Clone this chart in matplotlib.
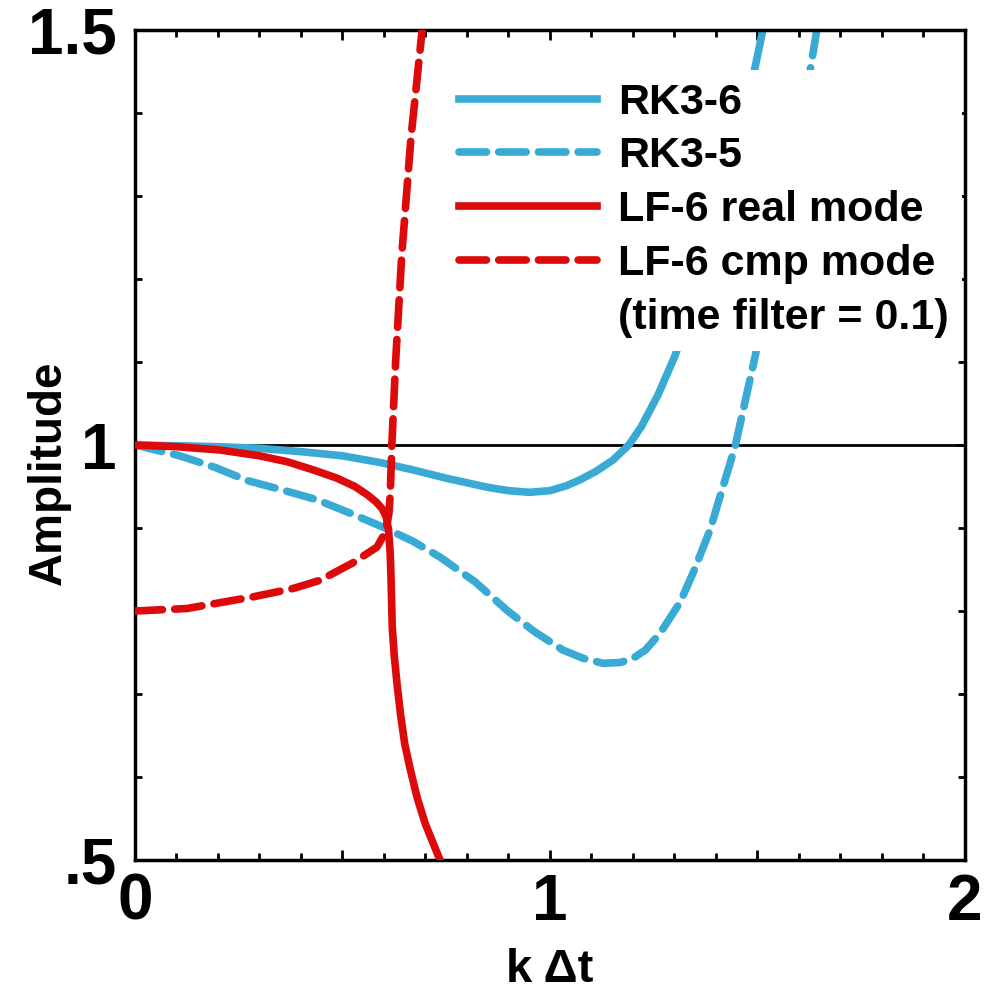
import matplotlib
matplotlib.use("Agg")
import matplotlib.pyplot as plt
from matplotlib.lines import Line2D
from matplotlib.ticker import MultipleLocator, FixedLocator, FixedFormatter

plt.rcParams['font.family'] = ['Liberation Sans', 'DejaVu Sans']

# RK3-6 (solid blue)
k_rk36 = [0, 0.1, 0.2, 0.3, 0.4, 0.5, 0.59, 0.67, 0.75, 0.85, 0.9, 0.95, 1.0, 1.04, 1.072,
          1.11, 1.152, 1.19, 1.22, 1.26, 1.30, 1.35, 1.40, 1.45, 1.513]
a_rk36 = [1.0, 0.999, 0.998, 0.996, 0.992, 0.987, 0.979, 0.970, 0.960, 0.949, 0.945, 0.943,
          0.945, 0.951, 0.958, 0.968, 0.982, 1.0, 1.022, 1.06, 1.106, 1.175, 1.255, 1.35, 1.5]

# RK3-5 (dashed blue)
k_rk35 = [0, 0.108, 0.193, 0.272, 0.354, 0.439, 0.518, 0.598, 0.67, 0.735, 0.82, 0.896, 0.96,
          1.031, 1.08, 1.128, 1.17, 1.2, 1.23, 1.265, 1.313, 1.345, 1.386, 1.402, 1.446,
          1.494, 1.55, 1.6, 1.643]
a_rk35 = [1.0, 0.987, 0.973, 0.957, 0.946, 0.934, 0.918, 0.901, 0.884, 0.865, 0.835, 0.801,
          0.776, 0.753, 0.743, 0.737, 0.738, 0.743, 0.753, 0.773, 0.81, 0.846, 0.898, 0.925,
          0.998, 1.106, 1.24, 1.37, 1.5]

# LF-6 real mode (solid red)
k_lf_real = [0, 0.1, 0.205, 0.3, 0.366, 0.43, 0.487, 0.53, 0.56, 0.582, 0.596, 0.605, 0.611,
             0.615, 0.617, 0.619, 0.62, 0.625, 0.632, 0.64, 0.65, 0.663, 0.68, 0.70, 0.735]
a_lf_real = [1.0, 0.998, 0.994, 0.987, 0.98, 0.97, 0.96, 0.95, 0.94, 0.931, 0.923, 0.914,
             0.898, 0.87, 0.84, 0.80, 0.78, 0.745, 0.71, 0.675, 0.64, 0.61, 0.575, 0.543, 0.5]

# LF-6 computational mode (dashed red)
k_lf_cmp = [0, 0.125, 0.284, 0.38, 0.446, 0.525, 0.583, 0.598, 0.607, 0.612, 0.615, 0.617,
            0.619, 0.628, 0.643, 0.665, 0.692]
a_lf_cmp = [0.8, 0.803, 0.817, 0.827, 0.837, 0.858, 0.877, 0.89, 0.903, 0.918, 0.94, 0.97,
            1.0, 1.1, 1.23, 1.37, 1.5]

blue = '#38aad4'
red = '#dc0a0a'

fig = plt.figure(figsize=(9.88, 9.94), dpi=100)
ax = fig.add_axes([0.1366, 0.1348, 0.8401, 0.835])

ax.axhline(1.0, color='black', lw=2.0, zorder=1)

ax.plot(k_rk36, a_rk36, color=blue, lw=5.5, label='RK3-6', zorder=2)
ax.plot(k_rk35, a_rk35, color=blue, lw=5.5, dashes=(3.6, 1.6), dash_capstyle='round',
        label='RK3-5', zorder=2)
ax.plot(k_lf_real, a_lf_real, color=red, lw=5.5, label='LF-6 real mode', zorder=3)
ax.plot(k_lf_cmp, a_lf_cmp, color=red, lw=5.5, dashes=(3.6, 1.6), dash_capstyle='round',
        label='LF-6 cmp mode', zorder=3)

ax.set_xlim(0, 2)
ax.set_ylim(0.5, 1.5)

ax.xaxis.set_major_locator(FixedLocator([0, 0.5, 1, 1.5, 2]))
ax.xaxis.set_major_formatter(FixedFormatter(['0', '', '1', '', '2']))
ax.xaxis.set_minor_locator(MultipleLocator(0.1))
ax.yaxis.set_major_locator(FixedLocator([0.5, 1, 1.5]))
ax.yaxis.set_major_formatter(FixedFormatter(['.5', '1', '1.5']))
ax.yaxis.set_minor_locator(MultipleLocator(0.1))

ax.tick_params(which='both', direction='in', top=True, right=True, width=2)
ax.tick_params(which='major', length=7)
ax.tick_params(which='minor', length=5)
ax.tick_params(axis='x', which='major', labelsize=46, pad=9)
ax.tick_params(axis='y', which='major', labelsize=46, pad=13)
for lab in ax.get_xticklabels() + ax.get_yticklabels():
    lab.set_fontweight('bold')
for sp in ax.spines.values():
    sp.set_linewidth(2.5)

ax.set_xlabel('k \u0394t', fontsize=34, fontweight='bold')
ax.xaxis.set_label_coords(0.5, -0.106)
ax.set_ylabel('Amplitude', fontsize=33, fontweight='bold')
ax.yaxis.set_label_coords(-0.077, 0.467)

handles, labels = ax.get_legend_handles_labels()
handles.append(Line2D([], [], color='none'))
labels.append('(time filter = 0.1)')
leg = ax.legend(handles, labels, loc='center', bbox_to_anchor=(0.6855, 0.783),
                fontsize=31, handlelength=3.2, handletextpad=0.5, labelspacing=0.32,
                frameon=True, fancybox=False, borderpad=0.3, borderaxespad=0)
leg.get_frame().set_facecolor('white')
leg.get_frame().set_edgecolor('none')
leg.get_frame().set_alpha(1.0)
leg.set_zorder(5)
for t in leg.get_texts():
    t.set_fontweight('bold')

fig.savefig('out.png', dpi=100)
